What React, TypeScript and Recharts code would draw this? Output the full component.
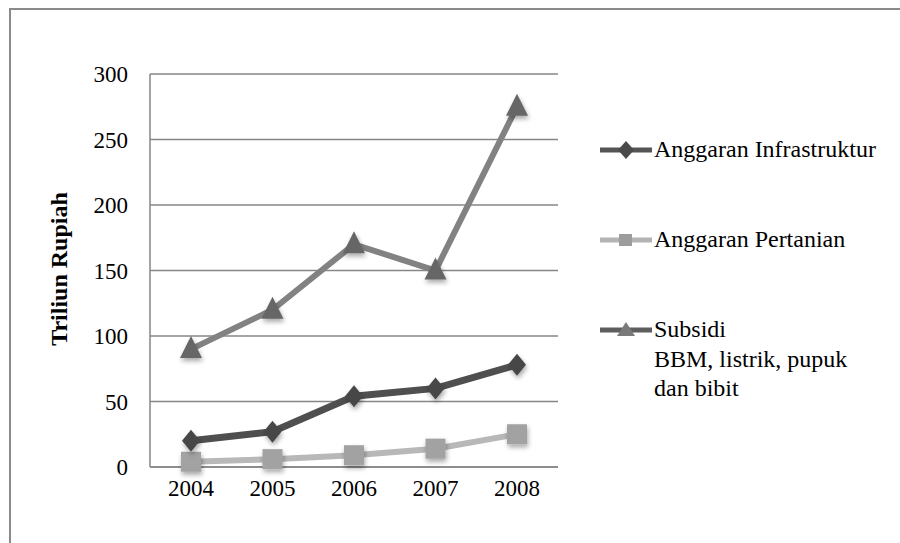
import React from "react";
import { LineChart, Line, XAxis, YAxis, CartesianGrid, Legend } from "recharts";

const years = ["2004", "2005", "2006", "2007", "2008"];
const infrastruktur = [20, 27, 54, 60, 78];
const pertanian = [4, 6, 9, 14, 25];
const subsidi = [90, 120, 170, 150, 275];
const yTicks = [0, 50, 100, 150, 200, 250, 300];

const data = years.map((year, i) => ({
  year,
  infrastruktur: infrastruktur[i],
  pertanian: pertanian[i],
  subsidi: subsidi[i],
}));

const FONT = "'Liberation Serif', 'Times New Roman', serif";

const Diamond = (props: any) => {
  const { cx, cy, fill } = props;
  if (cx == null || cy == null) return null;
  return (
    <path
      d={`M${cx},${cy - 11} L${cx + 9},${cy} L${cx},${cy + 11} L${cx - 9},${cy} Z`}
      fill={fill}
      filter="url(#soft)"
    />
  );
};

const Square = (props: any) => {
  const { cx, cy, fill } = props;
  if (cx == null || cy == null) return null;
  return <rect x={cx - 10} y={cy - 10} width={20} height={20} fill={fill} filter="url(#soft)" />;
};

const Triangle = (props: any) => {
  const { cx, cy, fill } = props;
  if (cx == null || cy == null) return null;
  return (
    <path
      d={`M${cx},${cy - 13} L${cx + 11},${cy + 9} L${cx - 11},${cy + 9} Z`}
      fill={fill}
      filter="url(#soft)"
    />
  );
};

const legendItems = [
  { key: "infrastruktur", lines: ["Anggaran Infrastruktur"], stroke: "#555555", fill: "#4a4a4a", shape: "diamond" },
  { key: "pertanian", lines: ["Anggaran Pertanian"], stroke: "#b3b3b3", fill: "#9c9c9c", shape: "square" },
  { key: "subsidi", lines: ["Subsidi", "BBM, listrik, pupuk", "dan bibit"], stroke: "#5e5e5e", fill: "#7a7a7a", shape: "triangle" },
];

const LegendBox = () => (
  <div style={{ fontFamily: FONT, fontSize: 24, color: "#000" }}>
    {legendItems.map((it) => (
      <div key={it.key} style={{ display: "flex", alignItems: "flex-start", height: 90 }}>
        <svg width={56} height={24} style={{ flexShrink: 0 }}>
          <line x1={2} y1={12} x2={54} y2={12} stroke={it.stroke} strokeWidth={5} />
          {it.shape === "diamond" && <path d="M28,3 L36,12 L28,21 L20,12 Z" fill={it.fill} />}
          {it.shape === "square" && <rect x={21} y={6} width={13} height={12} fill={it.fill} />}
          {it.shape === "triangle" && <path d="M28,4 L37,18 L19,18 Z" fill={it.fill} />}
        </svg>
        <div style={{ lineHeight: "29.5px", marginTop: -3 }}>
          {it.lines.map((l) => (
            <div key={l}>{l}</div>
          ))}
        </div>
      </div>
    ))}
  </div>
);

export default function App() {
  return (
    <div style={{ position: "absolute", left: 0, top: 0, width: 900, height: 543, background: "#ffffff", overflow: "hidden" }}>
      <div
        style={{
          position: "absolute",
          left: 9,
          top: 8,
          width: 891,
          height: 535,
          borderLeft: "2px solid #8a8a8a",
          borderTop: "2px solid #8a8a8a",
        }}
      />
      <div
        style={{
          position: "absolute",
          left: 59,
          top: 269,
          transform: "translate(-50%, -50%) rotate(-90deg)",
          fontFamily: FONT,
          fontWeight: "bold",
          fontSize: 24,
          whiteSpace: "nowrap",
        }}
      >
        Triliun Rupiah
      </div>
      <LineChart
        width={900}
        height={543}
        data={data}
        margin={{ top: 74, right: 42, bottom: 36, left: 90 }}
        style={{ position: "absolute", left: 0, top: 0 }}
      >
        <defs>
          <filter id="soft" x="-50%" y="-50%" width="200%" height="200%">
            <feGaussianBlur in="SourceAlpha" stdDeviation="2.5" />
            <feOffset dx="1" dy="3" result="b" />
            <feComponentTransfer>
              <feFuncA type="linear" slope="0.35" />
            </feComponentTransfer>
            <feMerge>
              <feMergeNode />
              <feMergeNode in="SourceGraphic" />
            </feMerge>
          </filter>
        </defs>
        <CartesianGrid vertical={false} stroke="#868686" strokeWidth={1.5} />
        <XAxis
          dataKey="year"
          padding={{ left: 41, right: 41 }}
          axisLine={{ stroke: "#868686", strokeWidth: 1.5 }}
          tickLine={false}
          tickSize={0}
          tickMargin={13}
          height={40}
          tick={{ fill: "#000", fontFamily: FONT, fontSize: 23 }}
        />
        <YAxis
          domain={[0, 300]}
          ticks={yTicks}
          axisLine={{ stroke: "#868686", strokeWidth: 1.5 }}
          tickLine={false}
          tickSize={0}
          tickMargin={22}
          width={60}
          tick={{ fill: "#000", fontFamily: FONT, fontSize: 23 }}
        />
        <Legend
          layout="vertical"
          align="right"
          verticalAlign="top"
          wrapperStyle={{ left: 598, top: 138, width: 300 }}
          content={() => <LegendBox />}
        />
        <Line
          dataKey="subsidi"
          name="Subsidi BBM, listrik, pupuk dan bibit"
          stroke="#828282"
          strokeWidth={6}
          dot={<Triangle fill="#666666" />}
          activeDot={false}
          isAnimationActive={false}
        />
        <Line
          dataKey="pertanian"
          name="Anggaran Pertanian"
          stroke="#b8b8b8"
          strokeWidth={6}
          dot={<Square fill="#a2a2a2" />}
          activeDot={false}
          isAnimationActive={false}
        />
        <Line
          dataKey="infrastruktur"
          name="Anggaran Infrastruktur"
          stroke="#4f4f4f"
          strokeWidth={7}
          dot={<Diamond fill="#474747" />}
          activeDot={false}
          isAnimationActive={false}
        />
      </LineChart>
    </div>
  );
}
